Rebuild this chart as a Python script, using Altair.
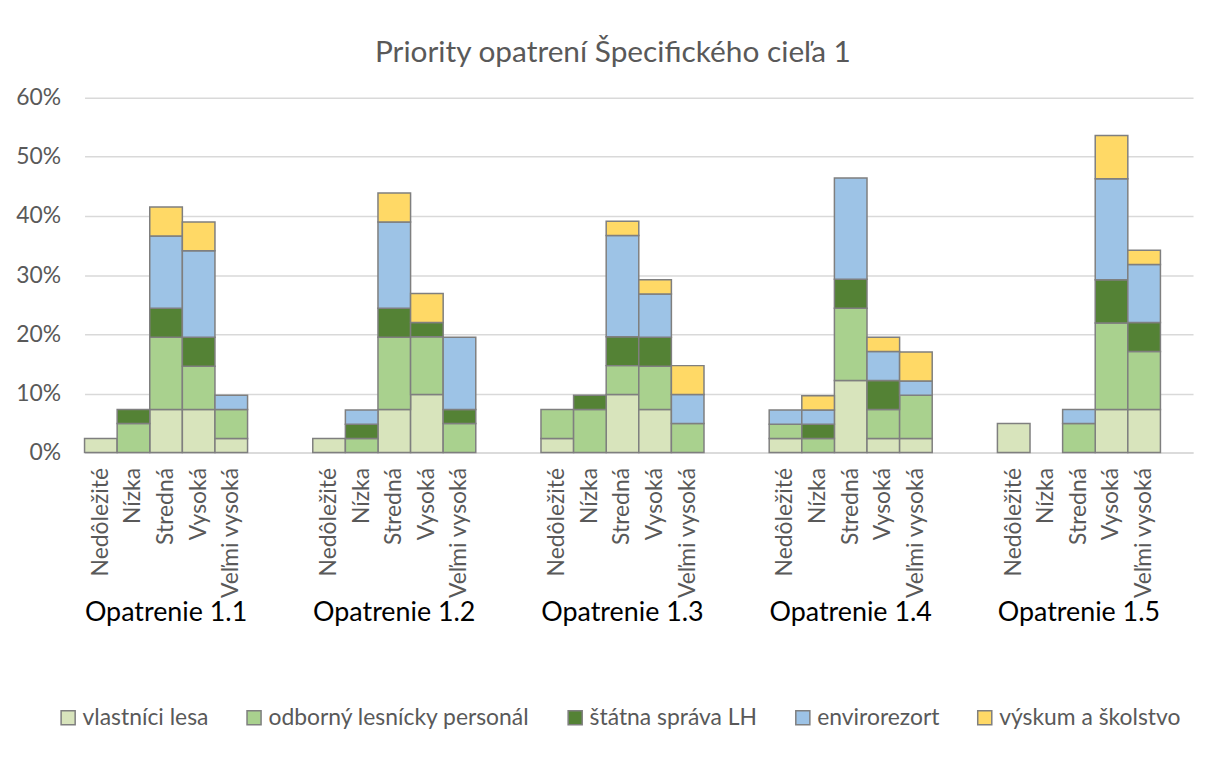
import altair as alt
import pandas as pd

groups = ["Opatrenie 1.1", "Opatrenie 1.2", "Opatrenie 1.3", "Opatrenie 1.4", "Opatrenie 1.5"]
categories = ["Nedôležité", "Nízka", "Stredná", "Vysoká", "Veľmi vysoká"]
series = ["vlastníci lesa", "odborný lesnícky personál", "štátna správa LH", "envirorezort", "výskum a školstvo"]
colors = ["#D8E4BC", "#A9D18E", "#548235", "#9DC3E6", "#FFD966"]

# values in %, per group: [Nedôležité, Nízka, Stredná, Vysoká, Veľmi vysoká]
vlastnici = [
    [2.4, 0, 7.3, 7.3, 2.4],
    [2.4, 0, 7.3, 9.8, 0],
    [2.4, 0, 9.8, 7.3, 0],
    [2.4, 0, 12.2, 2.4, 2.4],
    [4.9, 0, 0, 7.3, 7.3],
]
odborny = [
    [0, 4.9, 12.2, 7.3, 4.9],
    [0, 2.4, 12.2, 9.8, 4.9],
    [4.9, 7.3, 4.9, 7.3, 4.9],
    [2.4, 2.4, 12.2, 4.9, 7.3],
    [0, 0, 4.9, 14.6, 9.8],
]
statna = [
    [0, 2.4, 4.9, 4.9, 0],
    [0, 2.4, 4.9, 2.4, 2.4],
    [0, 2.4, 4.9, 4.9, 0],
    [0, 2.4, 4.9, 4.9, 0],
    [0, 0, 0, 7.3, 4.9],
]
enviro = [
    [0, 0, 12.2, 14.6, 2.4],
    [0, 2.4, 14.6, 0, 12.2],
    [0, 0, 17.1, 7.3, 4.9],
    [2.4, 2.4, 17.1, 4.9, 2.4],
    [0, 0, 2.4, 17.1, 9.8],
]
vyskum = [
    [0, 0, 4.9, 4.9, 0],
    [0, 0, 4.9, 4.9, 0],
    [0, 0, 2.4, 2.4, 4.9],
    [0, 2.4, 0, 2.4, 4.9],
    [0, 0, 0, 7.3, 2.4],
]
y_ticks = [0, 10, 20, 30, 40, 50, 60]

all_series = [vlastnici, odborny, statna, enviro, vyskum]

# slot domain: 5 bars per group, two empty slots between groups, one at the end
domain = []
for gi, g in enumerate(groups):
    for c in categories:
        domain.append(f"{g}|{c}")
    if gi < len(groups) - 1:
        domain += [f"gap{gi}a", f"gap{gi}b"]
    else:
        domain.append(f"gap{gi}a")

rows = []
for si, (s, vals) in enumerate(zip(series, all_series)):
    for gi, g in enumerate(groups):
        for ci, c in enumerate(categories):
            v = vals[gi][ci]
            if v > 0:
                rows.append({"slot": f"{g}|{c}", "series": s, "order": si, "value": v})
df = pd.DataFrame(rows)

labels_df = pd.DataFrame({"slot": [f"{g}|{categories[2]}" for g in groups], "label": groups})

font = "Lato"
gray = "#595959"

xscale = alt.Scale(domain=domain, paddingInner=0, paddingOuter=0)

bars = alt.Chart(df).mark_bar(stroke="#7F7F7F", strokeWidth=1.5).encode(
    x=alt.X("slot:N", scale=xscale, sort=domain,
            axis=alt.Axis(title=None, labelAngle=-90, labelExpr="indexof(datum.value,'|')>=0 ? split(datum.value,'|')[1] : ''",
                          labelFont=font, labelFontSize=23, labelColor=gray, labelPadding=15,
                          ticks=False, domainColor="#D9D9D9", domainWidth=1.5, labelOverlap=False, labelLimit=0)),
    y=alt.Y("value:Q", stack="zero", scale=alt.Scale(domain=[0, 60]),
            axis=alt.Axis(title=None, values=y_ticks, labelExpr="datum.value + '%'", labelFont=font,
                          labelFontSize=23, labelColor=gray, labelPadding=24, ticks=False, domain=False,
                          gridColor="#D9D9D9", gridWidth=1.5)),
    color=alt.Color("series:N", scale=alt.Scale(domain=series, range=colors),
                    legend=alt.Legend(title=None, orient="none", legendX=-28, legendY=612, direction="horizontal",
                                      symbolType="square", symbolSize=200, symbolStrokeColor="#7F7F7F",
                                      symbolStrokeWidth=1.5, labelFont=font, labelFontSize=23, labelColor=gray,
                                      columnPadding=34, labelOffset=3, labelLimit=0)),
    order=alt.Order("order:Q"),
)

group_text = alt.Chart(labels_df).mark_text(font=font, fontSize=27, color="black", baseline="middle").encode(
    x=alt.X("slot:N", scale=xscale, sort=domain),
    y=alt.value(518),
    text="label:N",
)

chart = alt.layer(bars, group_text).properties(
    width=1115, height=357,
    title=alt.TitleParams("Priority opatrení Špecifického cieľa 1", font=font, fontSize=30, fontWeight="normal",
                          color=gray, anchor="middle", offset=19, dx=-26),
    autosize=alt.AutoSizeParams(type="none"),
    padding={"left": 77, "top": 88, "right": 5, "bottom": 300},
).configure_view(stroke=None)

chart.save("out.html", embed_options={"renderer": "svg", "actions": False})
